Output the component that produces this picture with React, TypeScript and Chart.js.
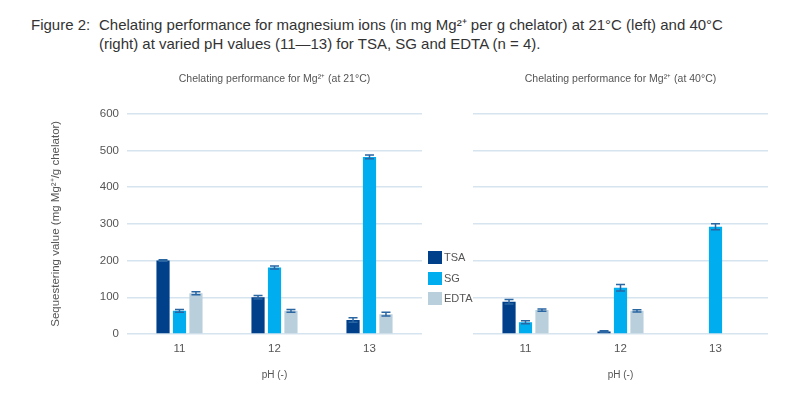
import React, { useEffect, useRef } from 'react';
import { Chart, registerables } from 'chart.js';

Chart.register(...registerables);

// ---------- data ----------
const categories = ['11', '12', '13'];
const seriesNames = ['TSA', 'SG', 'EDTA'];
const seriesColors = ['#00408a', '#00adef', '#b9cfdc'];
const yTickValues = [0, 100, 200, 300, 400, 500, 600];

const tsa21 = [200, 100, 38];
const sg21 = [63, 181, 482];
const edta21 = [111, 63, 54];
const tsaErr21 = [2, 5, 6];
const sgErr21 = [4, 4, 5];
const edtaErr21 = [4, 4, 5];

const tsa40 = [88, 7, 0];
const sg40 = [32, 126, 292];
const edta40 = [65, 63, 0];
const tsaErr40 = [6, 2, 0];
const sgErr40 = [4, 9, 8];
const edtaErr40 = [3, 3, 0];

const title21 = 'Chelating performance for Mg²⁺ (at 21°C)';
const title40 = 'Chelating performance for Mg²⁺ (at 40°C)';
const yTitle = 'Sequestering value (mg Mg²⁺/g chelator)';
const xTitle = 'pH (-)';

const FONT = '"Liberation Sans", Arial, Helvetica, sans-serif';
Chart.defaults.font.family = FONT;

const errorBarPlugin = {
  id: 'errorBars',
  afterDatasetsDraw(chart: any) {
    const ctx = chart.ctx;
    const yScale = chart.scales.y;
    chart.data.datasets.forEach((ds: any, i: number) => {
      const meta = chart.getDatasetMeta(i);
      meta.data.forEach((bar: any, j: number) => {
        const v = ds.data[j].y;
        const e = ds.errors[j];
        if (!v || !e) return;
        const x = bar.x;
        const top = yScale.getPixelForValue(v + e);
        const bot = yScale.getPixelForValue(v - e);
        const hw = 4.5;
        ctx.save();
        ctx.strokeStyle = '#2a66a2';
        ctx.lineWidth = 1.5;
        ctx.beginPath();
        ctx.moveTo(x, top);
        ctx.lineTo(x, bot);
        ctx.moveTo(x - hw, top);
        ctx.lineTo(x + hw, top);
        ctx.moveTo(x - hw, bot);
        ctx.lineTo(x + hw, bot);
        ctx.stroke();
        ctx.restore();
      });
    });
  },
};

function makeConfig(
  title: string,
  values: number[][],
  errors: number[][],
  showY: boolean,
  padLeft: number,
  padRight: number
): any {
  const catNums = categories.map(Number);
  const half = 1.5526;
  return {
    type: 'bar',
    data: {
      datasets: seriesNames.map((name, k) => ({
        label: name,
        data: catNums.map((c, j) => ({ x: c, y: values[k][j] })),
        errors: errors[k],
        backgroundColor: seriesColors[k],
        borderWidth: 0,
        categoryPercentage: 0.52,
        barPercentage: 0.8,
      })),
    },
    options: {
      responsive: false,
      animation: false,
      layout: { padding: { left: padLeft, right: padRight, top: 0, bottom: 0 } },
      plugins: {
        legend: { display: false },
        tooltip: { enabled: false },
        title: {
          display: true,
          fullSize: false,
          text: title,
          color: '#555',
          font: { size: 10.5, weight: 'normal', family: FONT },
          padding: { top: 13, bottom: 28 },
        },
      },
      scales: {
        x: {
          type: 'linear',
          min: 12 - half,
          max: 12 + half,
          offset: false,
          grid: { display: false, offset: false, drawTicks: false },
          border: { display: false },
          afterBuildTicks: (s: any) => {
            s.ticks = catNums.map((v) => ({ value: v }));
          },
          afterFit: (s: any) => {
            s.height = 66;
          },
          ticks: {
            color: '#555',
            font: { size: 11.5 },
            padding: 8,
            autoSkip: false,
            maxRotation: 0,
            callback: (v: any) => categories[catNums.indexOf(Number(v))] ?? '',
          },
          title: {
            display: true,
            text: xTitle,
            color: '#555',
            font: { size: 10 },
            padding: { top: 0, bottom: 19 },
          },
        },
        y: {
          min: 0,
          max: 600,
          afterBuildTicks: (s: any) => {
            s.ticks = yTickValues.map((v) => ({ value: v }));
          },
          afterFit: (s: any) => {
            s.width = showY ? 81 : 0;
          },
          grid: { color: '#d6e4ef', lineWidth: 1.5, drawTicks: false },
          border: { display: false },
          ticks: {
            display: showY,
            color: '#555',
            font: { size: 11.5 },
            padding: 8,
          },
          title: {
            display: showY,
            text: yTitle,
            color: '#555',
            font: { size: 11.5 },
            padding: { top: 3, bottom: 0 },
          },
        },
      },
    },
    plugins: [errorBarPlugin],
  };
}

function ChartCanvas(props: { config: any; left: number; top: number; width: number; height: number }) {
  const ref = useRef<HTMLCanvasElement | null>(null);
  useEffect(() => {
    if (!ref.current) return;
    const chart = new Chart(ref.current, props.config);
    return () => chart.destroy();
  }, []);
  return (
    <canvas
      ref={ref}
      width={props.width}
      height={props.height}
      style={{ position: 'absolute', left: props.left, top: props.top, width: props.width, height: props.height }}
    />
  );
}

export default function App() {
  const config21 = makeConfig(title21, [tsa21, sg21, edta21], [tsaErr21, sgErr21, edtaErr21], true, 16, 8);
  const config40 = makeConfig(title40, [tsa40, sg40, edta40], [tsaErr40, sgErr40, edtaErr40], false, 33, 32);
  const legendTops = [251, 272, 292];
  const captionStyle: React.CSSProperties = {
    position: 'absolute',
    top: 15,
    fontSize: 15,
    lineHeight: '19px',
    color: '#333',
    whiteSpace: 'nowrap',
  };
  return (
    <div
      style={{
        position: 'absolute',
        left: 0,
        top: 0,
        width: 800,
        height: 403,
        background: '#fff',
        fontFamily: FONT,
        overflow: 'hidden',
      }}
    >
      <div style={{ ...captionStyle, left: 31 }}>Figure 2:</div>
      <div style={{ ...captionStyle, left: 99 }}>
        Chelating performance for magnesium ions (in mg Mg²⁺ per g chelator) at 21°C (left) and 40°C
        <br />
        (right) at varied pH values (11—13) for TSA, SG and EDTA (n = 4).
      </div>
      <ChartCanvas config={config21} left={30} top={60} width={400} height={340} />
      <ChartCanvas config={config40} left={440} top={60} width={360} height={340} />
      {seriesNames.map((name, k) => (
        <div key={name} style={{ position: 'absolute', left: 428, top: legendTops[k], height: 13, zIndex: 2 }}>
          <div style={{ position: 'absolute', left: 0, top: 0, width: 14, height: 13, background: seriesColors[k] }} />
          <div style={{ position: 'absolute', left: 16, top: -1, fontSize: 11, lineHeight: '15px', color: '#555' }}>{name}</div>
        </div>
      ))}
    </div>
  );
}
